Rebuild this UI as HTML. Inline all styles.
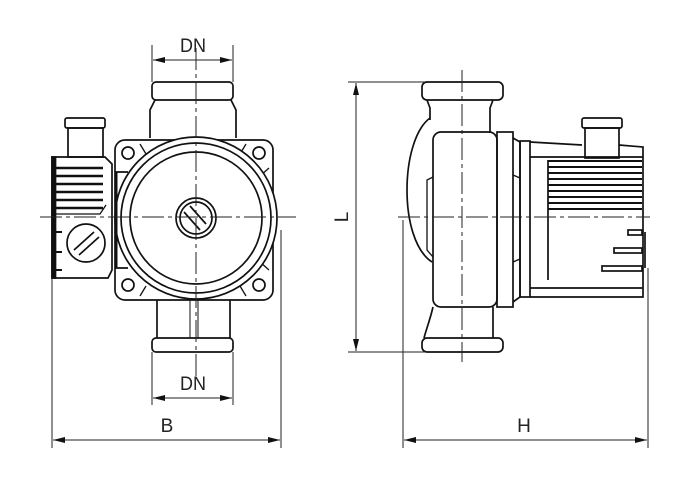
<!DOCTYPE html>
<html><head><meta charset="utf-8"><style>
html,body{margin:0;padding:0;background:#fff;width:700px;height:500px;overflow:hidden}
svg{display:block}
text{font-family:"Liberation Sans",sans-serif;font-size:19px;fill:#222}
</style></head><body>
<svg width="700" height="500" viewBox="0 0 700 500" xmlns="http://www.w3.org/2000/svg">
<defs>
<marker id="a" viewBox="0 0 12 6" refX="12" refY="3" markerWidth="12" markerHeight="6" orient="auto-start-reverse" markerUnits="userSpaceOnUse"><path d="M0,0 L12,3 L0,6 z" fill="#111"/></marker>
</defs>
<g fill="none" stroke="#111" stroke-width="1.7">
<rect x="152" y="82" width="81" height="18" rx="4"/>
<path d="M150,138 L150,110 L155,100 M236,138 L236,110 L231,100"/>
<path d="M157,300 L157,338 M230,300 L230,338"/>
<rect x="152" y="338" width="81" height="14" rx="4"/>
<line x1="190" y1="300" x2="190" y2="338" stroke-width="1"/><line x1="198" y1="300" x2="198" y2="338" stroke-width="1"/>
<rect x="115" y="140" width="158" height="160" rx="10"/>
<circle cx="128" cy="153" r="6"/><circle cx="259" cy="153" r="6"/>
<circle cx="128" cy="285" r="6"/><circle cx="259" cy="285" r="6"/>
<path d="M140,144 L146,154 M246,144 L240,154 M269,168 L260,176 M269,270 L260,262 M140,296 L146,286 M246,296 L240,286" stroke-width="1.3"/>
<circle cx="196" cy="218" r="81" fill="#fff"/>
<circle cx="196" cy="218" r="75"/>
<circle cx="196" cy="218" r="66"/>
<circle cx="196" cy="218" r="20"/>
<circle cx="196" cy="218" r="16"/>
<path d="M184,212 L200,230 M190,206 L206,224"/>
<path d="M115,172 L128,172 M115,268 L128,268"/>
<line x1="116" y1="172" x2="116" y2="268" stroke-width="3"/>
<rect x="65" y="118" width="40" height="10" rx="2"/>
<rect x="68" y="128" width="35" height="29"/>
<path d="M52,157 L105,157 L112,164 L112,270 L108,278 L52,278 Z"/>
<rect x="52" y="157" width="3.5" height="121" fill="#111"/>
<g stroke-width="2.5"><line x1="56" y1="168" x2="103" y2="168"/><line x1="56" y1="176" x2="103" y2="176"/><line x1="56" y1="184" x2="103" y2="184"/><line x1="56" y1="192" x2="103" y2="192"/><line x1="56" y1="200" x2="103" y2="200"/><line x1="56" y1="208" x2="103" y2="208"/></g>
<path d="M56,214 L100,214 L106,205" stroke-width="1.3"/>
<path d="M56,232 L62,232 M56,252 L62,252 M56,270 L62,270" stroke-width="2"/>
<circle cx="86" cy="243" r="19"/>
<path d="M74,250 L94,232 M79,255 L99,237"/>
<rect x="422" y="82" width="81" height="18" rx="5"/>
<path d="M427,100 L430,108 L430,120 M493,100 L490,108 L490,133"/>
<path d="M430,118 C400,140 398,240 432,262" />
<path d="M433,177 L427,180 L427,250 L433,257" stroke-width="1.3"/>
<rect x="433" y="132" width="64" height="175" rx="8"/>
<rect x="497" y="132" width="16" height="175"/>
<path d="M513,138 L520,142 L520,297 L513,302"/>
<rect x="520" y="141" width="10" height="156"/>
<path d="M513,175 L520,178 M513,262 L520,259" stroke-width="1.3"/>
<path d="M530,142 L582,145 M619,145 L643,147 L643,297 L530,297"/>
<line x1="530" y1="157" x2="643" y2="157"/>
<line x1="530" y1="288" x2="643" y2="288"/>
<line x1="548" y1="160" x2="548" y2="280"/>
<rect x="582" y="118" width="40" height="10" rx="2"/>
<rect x="585" y="128" width="34" height="30"/>
<g stroke-width="2"><line x1="548" y1="161" x2="642" y2="161"/><line x1="548" y1="167" x2="642" y2="167"/><line x1="548" y1="173" x2="642" y2="173"/><line x1="548" y1="179" x2="642" y2="179"/><line x1="548" y1="185" x2="642" y2="185"/><line x1="548" y1="191" x2="642" y2="191"/><line x1="548" y1="197" x2="642" y2="197"/><line x1="548" y1="203" x2="642" y2="203"/><line x1="548" y1="209" x2="642" y2="209"/></g>
<rect x="628" y="230" width="14" height="5"/><rect x="614" y="248" width="28" height="5"/><rect x="602" y="266" width="40" height="5"/>
<line x1="645" y1="232" x2="645" y2="268"/>
<rect x="422" y="338" width="81" height="14" rx="5"/>
<path d="M433,307 C430,320 426,330 424,338 M493,307 L493,338"/>
</g>
<g stroke="#222" stroke-width="1" fill="none" stroke-dasharray="22,4,4,4">
<line x1="40" y1="217" x2="296" y2="217"/>
<line x1="196" y1="48" x2="196" y2="380"/>
<line x1="398" y1="217" x2="650" y2="217"/>
<line x1="462" y1="70" x2="462" y2="362"/>
</g>
<g stroke="#222" stroke-width="1" fill="none">
<line x1="152" y1="45" x2="152" y2="82"/><line x1="233" y1="45" x2="233" y2="82"/>
<line x1="153" y1="60" x2="232" y2="60" marker-start="url(#a)" marker-end="url(#a)"/>
<line x1="152" y1="352" x2="152" y2="405"/><line x1="233" y1="352" x2="233" y2="405"/>
<line x1="153" y1="398" x2="232" y2="398" marker-start="url(#a)" marker-end="url(#a)"/>
<line x1="52" y1="278" x2="52" y2="448"/><line x1="281" y1="230" x2="281" y2="448"/>
<line x1="53" y1="440" x2="280" y2="440" marker-start="url(#a)" marker-end="url(#a)"/>
<line x1="348" y1="82" x2="425" y2="82"/><line x1="348" y1="352" x2="425" y2="352"/>
<line x1="356" y1="83" x2="356" y2="351" marker-start="url(#a)" marker-end="url(#a)"/>
<line x1="403" y1="220" x2="403" y2="448"/><line x1="648" y1="268" x2="648" y2="448"/>
<line x1="404" y1="440" x2="647" y2="440" marker-start="url(#a)" marker-end="url(#a)"/>
</g>
<text x="193" y="52" text-anchor="middle" textLength="26" lengthAdjust="spacingAndGlyphs">DN</text>
<text x="193" y="390" text-anchor="middle" textLength="26" lengthAdjust="spacingAndGlyphs">DN</text>
<text x="167" y="432" text-anchor="middle">B</text>
<text x="524" y="432" text-anchor="middle">H</text>
<text x="0" y="0" text-anchor="middle" transform="translate(348,217) rotate(-90)">L</text>
</svg>
</body></html>
